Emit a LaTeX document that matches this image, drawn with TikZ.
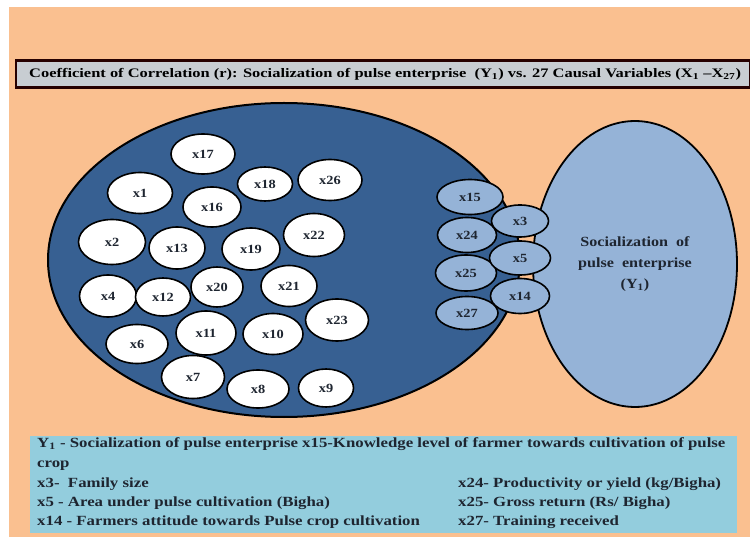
\documentclass[tikz,border=0pt]{standalone}
\usepackage{fontspec}
\setmainfont{Liberation Serif}
\usepackage{graphicx}
\usetikzlibrary{shapes.geometric}
\definecolor{bgorange}{HTML}{FAC090}
\definecolor{darkblue}{HTML}{376092}
\definecolor{lightblue}{HTML}{95B3D7}
\definecolor{titlegrey}{HTML}{C8CDD2}
\definecolor{legendblue}{HTML}{93CDDD}
\definecolor{txtdark}{HTML}{1E2530}
\newcommand{\wide}[1]{\scalebox{1.15}[1]{#1}}
\newcommand{\wider}[1]{\scalebox{1.265}[1]{#1}}
\newcommand{\legwide}[1]{\scalebox{1.2}[1]{#1}}
\begin{document}
\begin{tikzpicture}[x=1pt,y=-1pt,
  wv/.style 2 args={ellipse, draw=black, line width=1.6pt, fill=white, inner sep=0pt,
    minimum width=#1pt, minimum height=#2pt, font=\fontsize{12.5}{14}\selectfont\bfseries, text=txtdark},
  bv/.style 2 args={ellipse, draw=black, line width=1.6pt, fill=lightblue, inner sep=0pt,
    minimum width=#1pt, minimum height=#2pt, font=\fontsize{12.5}{14}\selectfont\bfseries, text=txtdark},
  legtxt/.style={anchor=base west, inner sep=0pt, font=\fontsize{14}{16}\selectfont\bfseries, text=txtdark}]
\useasboundingbox (0,0) rectangle (750,537);
\fill[white] (0,0) rectangle (750,537);
\fill[bgorange] (9,7) rectangle (750,537);
% title
\node[draw=black!85!red, line width=2.2pt, fill=titlegrey, minimum width=734pt, minimum height=27pt,
  inner sep=0pt, anchor=west] (titlebox) at (15,74) {};
\node[anchor=west, inner sep=0pt, font=\fontsize{13}{14}\selectfont\bfseries, text=black] (title) at (29,74)
  {\wider{Coefficient of Correlation (r): Socialization of pulse enterprise \ (Y\textsubscript{1}) vs. 27 Causal Variables (X\textsubscript{1} --X\textsubscript{27})}};
% big shapes
\node[ellipse, draw=black, line width=2pt, fill=darkblue, minimum width=472pt, minimum height=314pt, inner sep=0pt] (group) at (284,260) {};
\node[ellipse, draw=black, line width=1.8pt, fill=lightblue, minimum width=204pt, minimum height=286pt, inner sep=0pt,
  align=center, font=\fontsize{14}{21}\selectfont\bfseries, text=txtdark] (y1) at (635,264)
  {\wide{Socialization \ of}\\ \wide{pulse \ enterprise}\\ \wide{(Y\textsubscript{1})}};
% white variables
\node[wv={64}{40}] (x17) at (203,154) {\wide{x17}};
\node[wv={65}{41}] (x1) at (140,193) {\wide{x1}};
\node[wv={58}{40}] (x16) at (212,207) {\wide{x16}};
\node[wv={55}{34}] (x18) at (265,184) {\wide{x18}};
\node[wv={64}{41}] (x26) at (330,180) {\wide{x26}};
\node[wv={67}{45}] (x2) at (112,242) {\wide{x2}};
\node[wv={56}{42}] (x13) at (177,248) {\wide{x13}};
\node[wv={58}{42}] (x19) at (251,249) {\wide{x19}};
\node[wv={61}{43}] (x22) at (314,235) {\wide{x22}};
\node[wv={57}{42}] (x4) at (108,296) {\wide{x4}};
\node[wv={55}{38}] (x12) at (163,297) {\wide{x12}};
\node[wv={52}{40}] (x20) at (217,287) {\wide{x20}};
\node[wv={56}{41}] (x21) at (289,286) {\wide{x21}};
\node[wv={63}{42}] (x23) at (337,320) {\wide{x23}};
\node[wv={62}{39}] (x6) at (137,344) {\wide{x6}};
\node[wv={60}{44}] (x11) at (206,333) {\wide{x11}};
\node[wv={60}{41}] (x10) at (273,334) {\wide{x10}};
\node[wv={63}{43}] (x7) at (193,377) {\wide{x7}};
\node[wv={62}{38}] (x8) at (258,389) {\wide{x8}};
\node[wv={55}{38}] (x9) at (326,388) {\wide{x9}};
% light blue variables
\node[bv={66}{35}] (x15) at (470,197) {\wide{x15}};
\node[bv={59}{35}] (x24) at (467,235) {\wide{x24}};
\node[bv={61}{36}] (x25) at (466,273) {\wide{x25}};
\node[bv={62}{33}] (x27) at (467,313) {\wide{x27}};
\node[bv={57}{32}] (x3) at (520,221) {\wide{x3}};
\node[bv={61}{34}] (x5) at (520,258) {\wide{x5}};
\node[bv={59}{35}] (x14) at (520,296) {\wide{x14}};
% legend
\node[fill=legendblue, minimum width=707pt, minimum height=97pt, inner sep=0pt, anchor=north west] (legend) at (30,436) {};
\node[legtxt] (l1) at (37,447) {\legwide{Y\textsubscript{1} - Socialization of pulse enterprise x15-Knowledge level of farmer towards cultivation of pulse}};
\node[legtxt] (l2) at (37,467) {\legwide{crop}};
\node[legtxt] (l3) at (37,487) {\legwide{x3-\ \ Family size}};
\node[legtxt] (l4) at (37,506) {\legwide{x5 - Area under pulse cultivation (Bigha)}};
\node[legtxt] (l5) at (37,525) {\legwide{x14 - Farmers attitude towards Pulse crop cultivation}};
\node[legtxt] (l6) at (458,487) {\legwide{x24- Productivity or yield (kg/Bigha)}};
\node[legtxt] (l7) at (458,506) {\legwide{x25- Gross return (Rs/ Bigha)}};
\node[legtxt] (l8) at (458,525) {\legwide{x27- Training received}};
\end{tikzpicture}
\end{document}
